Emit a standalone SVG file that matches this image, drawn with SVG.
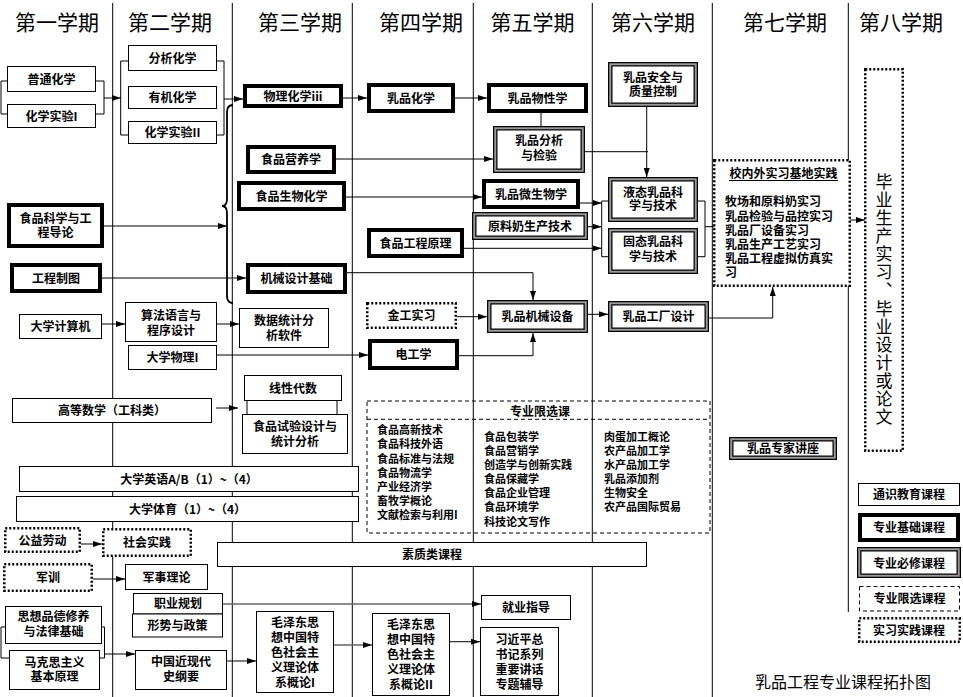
<svg xmlns="http://www.w3.org/2000/svg" width="963" height="697" viewBox="0 0 963 697">
<style>
text{font-family:"Noto Sans CJK SC","Noto Sans",sans-serif;font-weight:bold;font-size:12px;text-anchor:middle;fill:#000}
.h{font-size:21px;font-weight:normal}
.s{font-size:11px;text-anchor:start}
.l{text-anchor:start}
.v{font-size:17px;font-weight:normal;writing-mode:vertical-rl;text-anchor:start;letter-spacing:1.1px}
.ttl{font-size:16px;font-weight:normal}
.col{stroke:#000;stroke-width:1;fill:none}
.n{fill:#fff;stroke:#000;stroke-width:1}
.k{fill:#fff;stroke:#000;stroke-width:4}
.d1{fill:#fff;stroke:#000;stroke-width:4.5}
.d2{fill:none;stroke:#999;stroke-width:2}
.dot{fill:#fff;stroke:#000;stroke-width:2.5;stroke-dasharray:2 2}
.dash{fill:none;stroke:#000;stroke-width:1;stroke-dasharray:4 3}
.c{fill:none;stroke:#000;stroke-width:1}
.a{marker-end:url(#ah)}
.g{stroke:#666;stroke-width:1.5}
</style>
<defs>
<marker id="ah" markerUnits="userSpaceOnUse" markerWidth="9" markerHeight="6" refX="9" refY="3" orient="auto"><path d="M0,0 L9,3 L0,6 z" fill="#000"/></marker>
</defs>
<rect x="0" y="0" width="963" height="697" fill="#fff"/>
<g id="columns">
<path class="col" d="M112.7 3V697M232.3 3V697M352.3 3V697M473.3 3V697M592.3 3V697M712.3 3V697M848.3 3V612"/>
<text class="h" x="57" y="30">第一学期</text>
<text class="h" x="170" y="30">第二学期</text>
<text class="h" x="300" y="30">第三学期</text>
<text class="h" x="421" y="30">第四学期</text>
<text class="h" x="532.5" y="30">第五学期</text>
<text class="h" x="653" y="30">第六学期</text>
<text class="h" x="785" y="30">第七学期</text>
<text class="h" x="901" y="30">第八学期</text>
</g>
<g id="connectors">
<path class="c" d="M7 81H1V114H7M96 81H104V114H96"/>
<path class="c a" d="M104 98H120.7"/>
<path class="c" d="M128 61H120.7V135H128M217 61H224V135H217"/>
<path class="c a" d="M224 99H243"/>
<path class="c" d="M233 105Q227 105 227 112L227 199Q227 206 222 206Q227 206 227 213L227 296Q227 303 233 303" style="stroke-width:1.8"/>
<path class="c a" d="M104 226H227"/>
<path class="c a" d="M102 278H246"/>
<path class="c a" d="M343 98H367"/>
<path class="c a" d="M455 98H487"/>
<path class="c" d="M541 113V126"/>
<path class="c a" d="M336 159H493"/>
<path class="c" d="M585 151.7H648"/>
<path class="c a" d="M646.7 107V177"/>
<path class="c a" d="M346 197H482"/>
<path class="c a" d="M580 203H601.7"/>
<path class="c a" d="M588 226.7H601.7"/>
<path class="c a" d="M464 248.3H601.7"/>
<path class="c" d="M608 201H601.7V256.7H608M698 201H705V256.7H698"/>
<path class="c a" d="M705 226.7H723"/>
<path class="c a" d="M843 220H865"/>
<path class="c a" d="M347 272.7H533V300"/>
<path class="c a" d="M459 355.7H533V333"/>
<path class="c a" d="M457 316.7H487"/>
<path class="c a" d="M588 314.3H608"/>
<path class="c a" d="M709 318H772.7V287"/>
<path class="c a" d="M102 324H125"/>
<path class="c a" d="M217 324H239"/>
<path class="c a" d="M217 355H368"/>
<path class="c a" d="M216 408H238"/>
<path class="c a" d="M81 544H102"/>
<path class="c a" d="M93 579H125"/>
<path class="c g a" d="M223 604H481"/>
<path class="c" d="M5 627H1V658H9M102 627H104.5V658H100"/>
<path class="c a" d="M104.5 654H135"/>
<path class="c a" d="M227 661H256"/>
<path class="c g a" d="M334 645H372"/>
<path class="c a" d="M450 641.7H480"/>
</g>
<g id="n-putong"><rect class="n" x="7.5" y="66.5" width="88" height="25"/><text x="51.5" y="83.6">普通化学</text></g>
<g id="n-shiyan1"><rect class="n" x="7.5" y="104.5" width="88" height="23"/><text x="51.5" y="120.6">化学实验I</text></g>
<g id="n-fenxi"><rect class="n" x="128.5" y="45.5" width="88" height="25"/><text x="172.5" y="62.6">分析化学</text></g>
<g id="n-youji"><rect class="n" x="128.5" y="86.5" width="88" height="22"/><text x="172.5" y="102">有机化学</text></g>
<g id="n-shiyan2"><rect class="n" x="128.5" y="121.5" width="88" height="22"/><text x="172.5" y="137">化学实验II</text></g>
<g id="n-wuli"><rect class="k" x="245" y="86" width="96" height="20"/><text x="293" y="100.6">物理化学iii</text></g>
<g id="n-yingyang"><rect class="k" x="248" y="147" width="86" height="25"/><text x="291" y="164">食品营养学</text></g>
<g id="n-shengwu"><rect class="k" x="239" y="183" width="105" height="26"/><text x="291.5" y="200.6">食品生物化学</text></g>
<g id="n-daolun"><rect class="k" x="9" y="205" width="93" height="41"/><text x="55.5" y="223">食品科学与工<tspan x="55.5" y="237">程导论</tspan></text></g>
<g id="n-zhitu"><rect class="k" x="12" y="265" width="88" height="26"/><text x="56" y="282.6">工程制图</text></g>
<g id="n-jixie"><rect class="k" x="248" y="265" width="97" height="27"/><text x="296.5" y="283">机械设计基础</text></g>
<g id="n-jisuanji"><rect class="n" x="19.5" y="314.5" width="82" height="24"/><text x="60.5" y="331">大学计算机</text></g>
<g id="n-suanfa"><rect class="n" x="125.5" y="302.5" width="91" height="39"/><text x="171" y="319.6">算法语言与<tspan x="171" y="334.6">程序设计</tspan></text></g>
<g id="n-shuju"><rect class="n" x="239.5" y="308.5" width="89" height="39"/><text x="284" y="325.3">数据统计分<tspan x="284" y="339.6">析软件</tspan></text></g>
<g id="n-wuli1"><rect class="n" x="128.5" y="345.5" width="88" height="24"/><text x="172.5" y="362">大学物理I</text></g>
<g id="n-xianxing"><rect class="n" x="247" y="398" width="90" height="20"/><rect class="n" x="244.5" y="375.5" width="97" height="25"/><text x="293" y="392.6">线性代数</text></g>
<g id="n-shiyansheji"><rect class="n" x="242.5" y="414.5" width="105" height="39"/><text x="295" y="431.3">食品试验设计与<tspan x="295" y="446.3">统计分析</tspan></text></g>
<g id="n-gaoshu"><rect class="n" x="12.5" y="398.5" width="199" height="24"/><text x="112" y="415">高等数学（工科类）</text></g>
<g id="n-yingyu"><rect class="n" x="19.5" y="466.5" width="339" height="25"/><text x="189" y="483.6">大学英语A/B（1）~（4）</text></g>
<g id="n-tiyu"><rect class="n" x="16.5" y="496.5" width="342" height="25"/><text x="187.5" y="513.6">大学体育（1）~（4）</text></g>
<g id="n-gongyi"><rect class="dot" x="5.25" y="528.25" width="74.5" height="23.5"/><text x="42.5" y="544.6">公益劳动</text></g>
<g id="n-shehui"><rect class="dot" x="103.25" y="529.25" width="87.5" height="26.5"/><text x="147" y="546.6">社会实践</text></g>
<g id="n-suzhi"><rect class="n" x="217.5" y="542.5" width="429" height="24"/><text x="432" y="559">素质类课程</text></g>
<g id="n-junxun"><rect class="dot" x="4.25" y="564.25" width="87.5" height="26.5"/><text x="48" y="581.6">军训</text></g>
<g id="n-junshi"><rect class="n" x="125.5" y="564.5" width="82" height="25"/><text x="166.5" y="581.6">军事理论</text></g>
<g id="n-zhiye"><rect class="n" x="133.5" y="593.5" width="89" height="20.5"/><text x="178" y="608">职业规划</text></g>
<g id="n-xingshi"><rect class="n" x="132.5" y="614" width="90" height="23"/><text x="177.5" y="630">形势与政策</text></g>
<g id="n-jiuye"><rect class="n" x="481.5" y="595.5" width="89" height="24"/><text x="526" y="612">就业指导</text></g>
<g id="n-sixiang"><rect class="n" x="5.5" y="606.5" width="96" height="37"/><text x="53.5" y="621.3">思想品德修养<tspan x="53.5" y="635.6">与法律基础</tspan></text></g>
<g id="n-makesi"><rect class="n" x="9.5" y="650.5" width="90" height="39"/><text x="54.5" y="667.3">马克思主义<tspan x="54.5" y="681.3">基本原理</tspan></text></g>
<g id="n-jindai"><rect class="n" x="135.5" y="650.5" width="91" height="39"/><text x="181" y="666.3">中国近现代<tspan x="181" y="681.3">史纲要</tspan></text></g>
<g id="n-mao1"><rect class="n" x="256.5" y="611.5" width="77" height="81"/><text x="295" y="626.6">毛泽东思<tspan x="295" y="641.6">想中国特</tspan><tspan x="295" y="656.6">色社会主</tspan><tspan x="295" y="671.6">义理论体</tspan><tspan x="295" y="686.6">系概论I</tspan></text></g>
<g id="n-mao2"><rect class="n" x="372.5" y="613.5" width="77" height="82"/><text x="411" y="628.6">毛泽东思<tspan x="411" y="643.6">想中国特</tspan><tspan x="411" y="658.6">色社会主</tspan><tspan x="411" y="673.6">义理论体</tspan><tspan x="411" y="688.6">系概论II</tspan></text></g>
<g id="n-xi"><rect class="n" x="480.5" y="627.5" width="78" height="68"/><text x="519.5" y="643.6">习近平总<tspan x="519.5" y="658.6">书记系列</tspan><tspan x="519.5" y="673.6">重要讲话</tspan><tspan x="519.5" y="688.6">专题辅导</tspan></text></g>
<g id="n-rphx"><rect class="k" x="369" y="85" width="84" height="26"/><text x="411" y="102.6">乳品化学</text></g>
<g id="n-wuxing"><rect class="k" x="489" y="85" width="97" height="26"/><text x="537.5" y="102.6">乳品物性学</text></g>
<g id="n-fenxijy"><rect class="d1" x="495.25" y="128.25" width="87.5" height="42.5"/><rect class="d2" x="495.25" y="128.25" width="87.5" height="42.5"/><text x="539" y="144.6">乳品分析<tspan x="539" y="159.6">与检验</tspan></text></g>
<g id="n-anquan"><rect class="d1" x="610.25" y="64.25" width="85.5" height="40.5"/><rect class="d2" x="610.25" y="64.25" width="85.5" height="40.5"/><text x="653" y="81.6">乳品安全与<tspan x="653" y="95.6">质量控制</tspan></text></g>
<g id="n-weisheng"><rect class="k" x="484" y="181" width="94" height="26"/><text x="531" y="198.6">乳品微生物学</text></g>
<g id="n-yuanliao"><rect class="d1" x="474.25" y="214.25" width="111.5" height="23.5"/><rect class="d2" x="474.25" y="214.25" width="111.5" height="23.5"/><text x="530" y="230.6">原料奶生产技术</text></g>
<g id="n-gongcheng"><rect class="k" x="369" y="230" width="93" height="26"/><text x="415.5" y="247.6">食品工程原理</text></g>
<g id="n-yetai"><rect class="d1" x="610.25" y="179.25" width="85.5" height="40.5"/><rect class="d2" x="610.25" y="179.25" width="85.5" height="40.5"/><text x="653" y="196.6">液态乳品科<tspan x="653" y="210">学与技术</tspan></text></g>
<g id="n-gutai"><rect class="d1" x="610.25" y="230.25" width="85.5" height="41.5"/><rect class="d2" x="610.25" y="230.25" width="85.5" height="41.5"/><text x="653" y="246.3">固态乳品科<tspan x="653" y="260.6">学与技术</tspan></text></g>
<g id="n-jingong"><rect class="dot" x="367.25" y="303.25" width="88.5" height="24.5"/><text x="411.5" y="320">金工实习</text></g>
<g id="n-jixiesb"><rect class="d1" x="489.25" y="302.25" width="96.5" height="28.5"/><rect class="d2" x="489.25" y="302.25" width="96.5" height="28.5"/><text x="537.5" y="321">乳品机械设备</text></g>
<g id="n-diangong"><rect class="k" x="370" y="341" width="87" height="27"/><text x="413.5" y="359">电工学</text></g>
<g id="n-gongchang"><rect class="d1" x="610.25" y="303.25" width="96.5" height="26.5"/><rect class="d2" x="610.25" y="303.25" width="96.5" height="26.5"/><text x="658.5" y="321">乳品工厂设计</text></g>
<g id="n-shixi"><rect class="dot" x="714.25" y="160.25" width="135.5" height="125.5"/><text x="783.5" y="178">校内外实习基地实践</text><path class="c" d="M729 180.5H838"/>
<text class="l" x="725" y="206.3">牧场和原料奶实习<tspan x="725" y="220.5">乳品检验与品控实习</tspan><tspan x="725" y="234.6">乳品厂设备实习</tspan><tspan x="725" y="248.9">乳品生产工艺实习</tspan><tspan x="725" y="263.1">乳品工程虚拟仿真实</tspan><tspan x="725" y="277.3">习</tspan></text></g>
<g id="n-biye"><rect class="dot" x="865.25" y="69.25" width="37.5" height="381.5"/>
<text class="v" x="884" y="173">毕业生产实习、毕业设计或论文</text></g>
<g id="n-xianxuan"><rect class="dash" x="367" y="401" width="343" height="132"/><path class="dash" d="M367 419.3H710"/><text x="540" y="416.3">专业限选课</text>
<text class="s" x="377" y="434.2">食品高新技术<tspan x="377" y="448.4">食品科技外语</tspan><tspan x="377" y="462.5">食品标准与法规</tspan><tspan x="377" y="476.7">食品物流学</tspan><tspan x="377" y="490.8">产业经济学</tspan><tspan x="377" y="505">畜牧学概论</tspan><tspan x="377" y="519.1">文献检索与利用I</tspan></text>
<text class="s" x="484" y="440.9">食品包装学<tspan x="484" y="455">食品营销学</tspan><tspan x="484" y="469.1">创造学与创新实践</tspan><tspan x="484" y="483.2">食品保藏学</tspan><tspan x="484" y="497.3">食品企业管理</tspan><tspan x="484" y="511.4">食品环境学</tspan><tspan x="484" y="525.5">科技论文写作</tspan></text>
<text class="s" x="604" y="440.9">肉蛋加工概论<tspan x="604" y="455">农产品加工学</tspan><tspan x="604" y="469.1">水产品加工学</tspan><tspan x="604" y="483.2">乳品添加剂</tspan><tspan x="604" y="497.3">生物安全</tspan><tspan x="604" y="511.4">农产品国际贸易</tspan></text></g>
<g id="n-zhuanjia"><rect class="d1" x="731.25" y="439.25" width="103.5" height="18.5"/><rect class="d2" x="731.25" y="439.25" width="103.5" height="18.5"/><text x="783" y="453">乳品专家讲座</text></g>
<g id="legend">
<rect class="n" x="858.5" y="483.5" width="101" height="22"/><text x="909" y="499">通识教育课程</text>
<rect class="k" x="860" y="515" width="98" height="25"/><text x="909" y="531.6">专业基础课程</text>
<rect class="d1" x="859.25" y="549.25" width="99.5" height="26.5"/><rect class="d2" x="859.25" y="549.25" width="99.5" height="26.5"/><text x="909" y="567.6">专业必修课程</text>
<rect class="dash" x="859.5" y="586.5" width="100" height="24.5"/><text x="909.5" y="603">专业限选课程</text>
<rect class="dot" x="859.25" y="618.25" width="100.5" height="23.5"/><text x="909" y="634.6">实习实践课程</text>
<text class="ttl" x="843" y="688">乳品工程专业课程拓扑图</text>
</g>
</svg>
